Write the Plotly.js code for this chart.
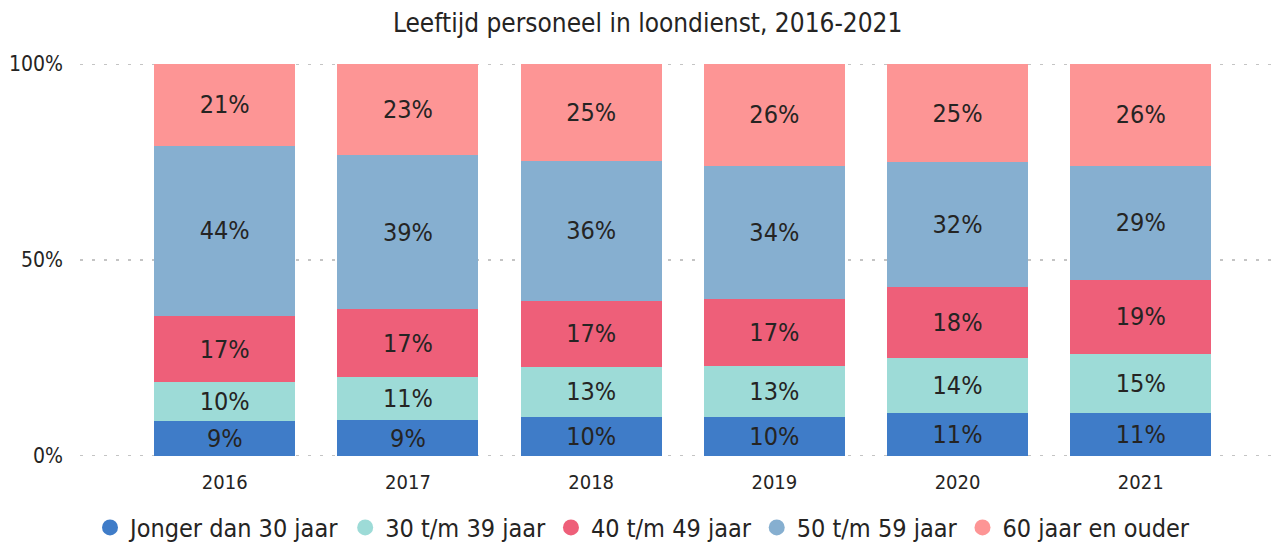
<!DOCTYPE html>
<html>
<head>
<meta charset="utf-8">
<script src="https://cdn.plot.ly/plotly-3.0.1.min.js"></script>
<style>html,body{margin:0;padding:0;background:#fff;}#chart{width:1285px;height:544px;}</style>
</head>
<body>
<div id="chart"></div>
<script>
const years = ['2016', '2017', '2018', '2019', '2020', '2021'];
const seriesNames = ['Jonger dan 30 jaar', '30 t/m 39 jaar', '40 t/m 49 jaar', '50 t/m 59 jaar', '60 jaar en ouder'];
const jonger30 = [9, 9, 10, 10, 11, 11];
const age30_39 = [10, 11, 13, 13, 14, 15];
const age40_49 = [17, 17, 17, 17, 18, 19];
const age50_59 = [44, 39, 36, 34, 32, 29];
const age60plus = [21, 23, 25, 26, 25, 26];
const yTickVals = [0, 50, 100];
const yTickText = ['0%', '50%', '100%'];
const colors = ['#3F7CC8', '#9DDBD7', '#EE5F79', '#86AFD0', '#FD9595'];
const seriesValues = [jonger30, age30_39, age40_49, age50_59, age60plus];

const FONT = '"Liberation Sans Narrow", "DejaVu Sans Condensed", sans-serif';
const GRID_DASH = '3px,9px';
const GRID_COLOR = '#C4C4C4';
const traces = [];
seriesValues.forEach((vals, i) => {
  traces.push({
    type: 'bar',
    x: years,
    y: vals,
    name: seriesNames[i],
    marker: {color: colors[i]},
    text: vals.map(v => v + '%'),
    textposition: 'inside',
    insidetextanchor: 'middle',
    textfont: {family: FONT, size: 25, color: '#252423'},
    textangle: 0,
    constraintext: 'none',
    hoverinfo: 'skip',
    showlegend: false
  });
});
seriesNames.forEach((n, i) => {
  traces.push({
    type: 'scatter', mode: 'markers',
    x: [null], y: [null],
    name: n,
    marker: {color: colors[i], size: 18, symbol: 'circle'},
    showlegend: true
  });
});

const layout = {
  width: 1285, height: 544,
  margin: {l: 80, r: 5, t: 64, b: 88},
  paper_bgcolor: '#fff', plot_bgcolor: '#fff',
  barmode: 'stack',
  barnorm: 'percent',
  bargap: 0.23,
  font: {family: FONT, color: '#252423'},
  title: {text: 'Leeftijd personeel in loondienst, 2016-2021', x: 0.504, xanchor: 'center', y: 0.958, yanchor: 'middle', font: {family: FONT, size: 26, color: '#252423'}},
  xaxis: {
    type: 'category',
    range: [-0.79, 5.76],
    showgrid: false, zeroline: false, showline: false,
    ticks: '', tickfont: {family: FONT, size: 20, color: '#252423'},
    ticklabelstandoff: 12
  },
  yaxis: {
    range: [0, 100],
    tickvals: yTickVals,
    ticktext: yTickText,
    showgrid: false,
    zeroline: false, showline: false,
    ticks: '', tickfont: {family: FONT, size: 21, color: '#252423'},
    ticklabelstandoff: 16
  },
  shapes: yTickVals.map(v => ({
    type: 'line', layer: 'below',
    xref: 'paper', x0: 0, x1: 1,
    yref: 'y', y0: v, y1: v,
    line: {color: GRID_COLOR, width: 2, dash: GRID_DASH}
  })),
  legend: {
    orientation: 'h', traceorder: 'normal',
    x: 0.5, xanchor: 'center', xref: 'container',
    y: 0.03, yanchor: 'middle', yref: 'container',
    font: {family: FONT, size: 25, color: '#252423'},
    itemwidth: 30, tracegroupgap: 0
  }
};
Plotly.newPlot('chart', traces, layout, {displayModeBar: false, staticPlot: true});
</script>
</body>
</html>
